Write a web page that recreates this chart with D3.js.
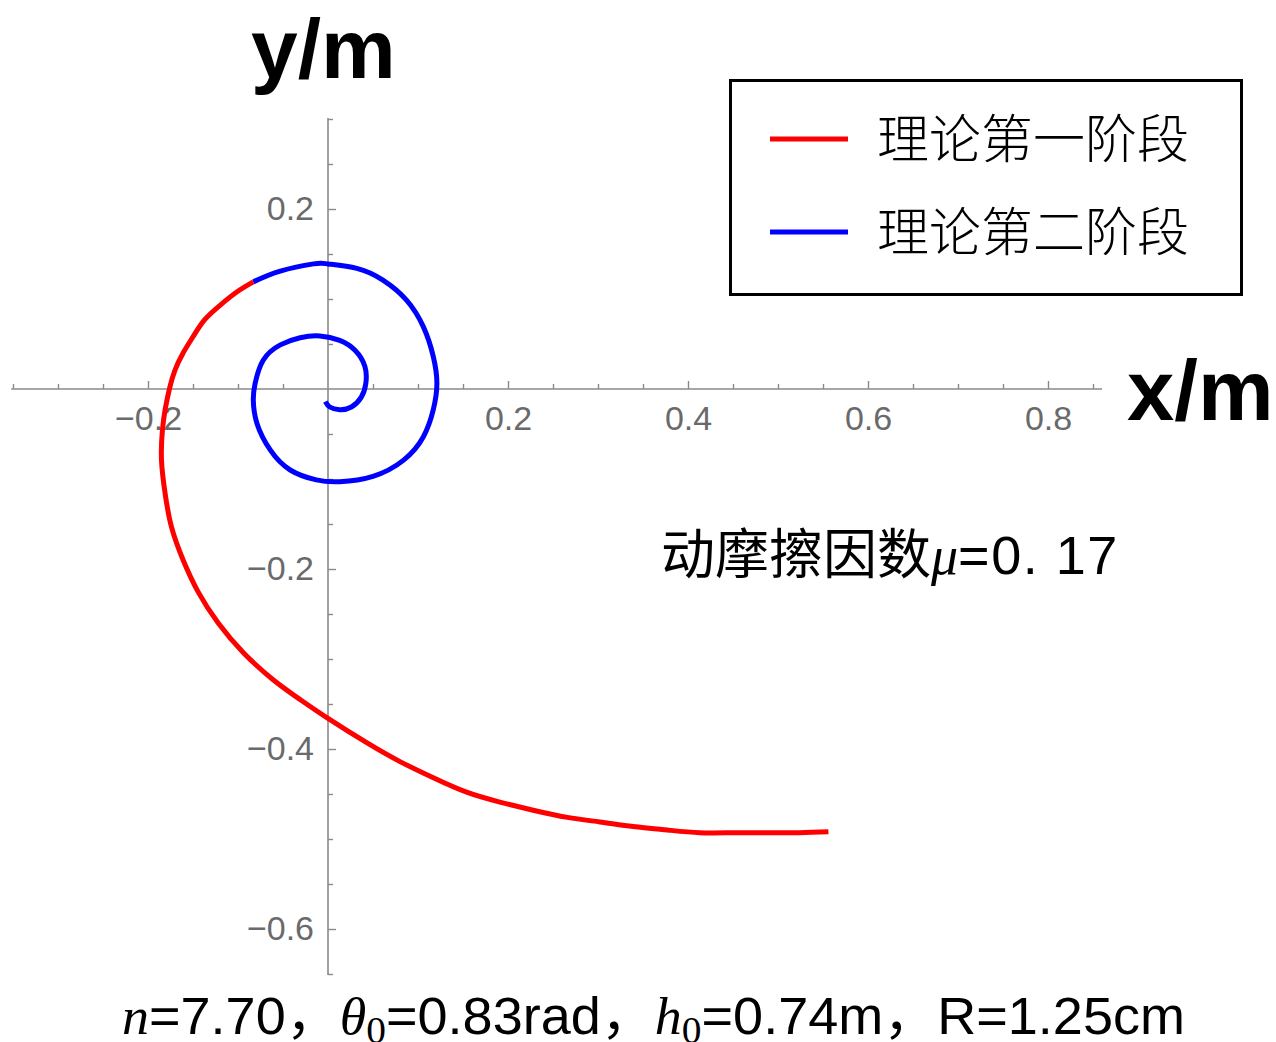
<!DOCTYPE html>
<html>
<head>
<meta charset="utf-8">
<script src="https://cdn.jsdelivr.net/npm/d3@7"></script>
<style>
  body { margin: 0; background: #fff; }
  svg { display: block; }
</style>
</head>
<body>
<svg id="chart" width="1276" height="1042"></svg>
<script>
// Trajectory of the first stage (outer end inward), metres
const redX = [0.556, 0.524, 0.488, 0.450, 0.413, 0.377, 0.339, 0.302, 0.266, 0.228, 0.191, 0.154, 0.117, 0.080, 0.043, 0.000,
  -0.031, -0.061, -0.094, -0.122, -0.144, -0.161, -0.174, -0.181, -0.185, -0.184, -0.181, -0.176, -0.170, -0.161, -0.150,
  -0.137, -0.120, -0.101, -0.083];
const redY = [-0.492, -0.493, -0.493, -0.493, -0.493, -0.490, -0.486, -0.481, -0.476, -0.468, -0.459, -0.448, -0.432, -0.414, -0.393, -0.366,
  -0.345, -0.323, -0.293, -0.260, -0.226, -0.190, -0.153, -0.116, -0.079, -0.046, -0.023, 0.001, 0.021, 0.040, 0.058,
  0.077, 0.093, 0.108, 0.119];

// Trajectory of the second stage (continues from the end of the first), metres
const blueX = [-0.083, -0.053, -0.016, 0.000, 0.032, 0.061, 0.087, 0.106, 0.117, 0.121, 0.117, 0.106, 0.084, 0.050, 0.013, -0.013,
  -0.042, -0.064, -0.079, -0.083, -0.081, -0.072, -0.053, -0.031, -0.009, 0.013, 0.030, 0.041, 0.042, 0.037, 0.026, 0.013, 0.002, -0.003];
const blueY = [0.119, 0.131, 0.139, 0.139, 0.134, 0.121, 0.099, 0.069, 0.036, 0.006, -0.023, -0.053, -0.079, -0.097, -0.103, -0.101,
  -0.090, -0.068, -0.038, -0.012, 0.006, 0.032, 0.049, 0.057, 0.059, 0.054, 0.043, 0.025, 0.006, -0.009, -0.020, -0.023, -0.020, -0.014];

// Axis ticks
const xMajorTicks = [-0.2, 0.2, 0.4, 0.6, 0.8];
const xMinorTicks = [-0.35, -0.3, -0.25, -0.15, -0.1, -0.05, 0.05, 0.1, 0.15, 0.25, 0.3, 0.35, 0.45, 0.5, 0.55, 0.65, 0.7, 0.75, 0.85];
const yMajorTicks = [0.2, -0.2, -0.4, -0.6];
const yMinorTicks = [0.3, 0.25, 0.15, 0.1, 0.05, -0.05, -0.1, -0.15, -0.25, -0.3, -0.35, -0.45, -0.5, -0.55, -0.65];

// Legend entries
const legendLabels = ["理论第一阶段", "理论第二阶段"];
const legendColors = ["#ff0000", "#0000ff"];

const svg = d3.select("#chart");
const x = d3.scaleLinear().domain([-0.35, 0.85]).range([13, 1093]);
const y = d3.scaleLinear().domain([0.3, -0.65]).range([119, 974]);

const axisColor = "#8a8a8a";
const labelColor = "#6a6a6a";
const tickFont = "'Liberation Sans', Arial, sans-serif";
const fmt = d3.format(".1f");

// axis lines
svg.append("line").attr("x1", x(-0.352)).attr("x2", x(0.86)).attr("y1", y(0)).attr("y2", y(0))
  .attr("stroke", axisColor).attr("stroke-width", 1.6);
svg.append("line").attr("x1", x(0)).attr("x2", x(0)).attr("y1", y(0.301)).attr("y2", y(-0.651))
  .attr("stroke", axisColor).attr("stroke-width", 1.6);

function styleAxis(g) {
  g.select(".domain").remove();
  g.selectAll(".tick line").attr("stroke", axisColor).attr("stroke-width", 1.4);
  g.selectAll(".tick text").attr("fill", labelColor).attr("font-family", tickFont).attr("font-size", 34);
}

// x axis: ticks point upward, labels below
svg.append("g").attr("transform", `translate(0,${y(0)})`)
  .call(d3.axisBottom(x).tickValues(xMinorTicks).tickSize(-5).tickFormat(""))
  .call(styleAxis);
svg.append("g").attr("transform", `translate(0,${y(0)})`)
  .call(d3.axisBottom(x).tickValues(xMajorTicks).tickSize(-8).tickPadding(17).tickFormat(fmt))
  .call(styleAxis);

// y axis: ticks point right, labels left
svg.append("g").attr("transform", `translate(${x(0)},0)`)
  .call(d3.axisLeft(y).tickValues(yMinorTicks).tickSize(-5).tickFormat(""))
  .call(styleAxis);
svg.append("g").attr("transform", `translate(${x(0)},0)`)
  .call(d3.axisLeft(y).tickValues(yMajorTicks).tickSize(-8).tickPadding(14).tickFormat(fmt))
  .call(styleAxis);

// axis titles
svg.append("text").attr("x", 251).attr("y", 78)
  .attr("font-family", "'Liberation Sans', Arial, sans-serif").attr("font-weight", "bold")
  .attr("font-size", 84).attr("fill", "#000").text("y/m");
svg.append("text").attr("x", 1127).attr("y", 420)
  .attr("font-family", "'Liberation Sans', Arial, sans-serif").attr("font-weight", "bold")
  .attr("font-size", 85).attr("fill", "#000").text("x/m");

// trajectories
const line = d3.line().x(d => x(d[0])).y(d => y(d[1])).curve(d3.curveNatural);
const redPts = redX.map((v, i) => [v, redY[i]]);
const bluePts = blueX.map((v, i) => [v, blueY[i]]);
svg.append("path").datum(bluePts).attr("d", line).attr("fill", "none")
  .attr("stroke", legendColors[1]).attr("stroke-width", 5).attr("stroke-linecap", "butt");
svg.append("path").datum(redPts).attr("d", line).attr("fill", "none")
  .attr("stroke", legendColors[0]).attr("stroke-width", 5).attr("stroke-linecap", "butt");

// legend
const leg = svg.append("g");
leg.append("rect").attr("x", 730.5).attr("y", 80.5).attr("width", 511).attr("height", 214)
  .attr("fill", "#fff").attr("stroke", "#000").attr("stroke-width", 3);
legendLabels.forEach((lab, i) => {
  const cy = 139 + i * 93;
  leg.append("line").attr("x1", 770).attr("x2", 848).attr("y1", cy).attr("y2", cy)
    .attr("stroke", legendColors[i]).attr("stroke-width", 5);
  leg.append("text").attr("x", 877).attr("y", cy + 19)
    .attr("font-family", "'Noto Sans CJK SC', sans-serif").attr("font-weight", 300)
    .attr("font-size", 52).attr("fill", "#000").text(lab);
});

// friction coefficient note
const note = svg.append("text").attr("x", 661).attr("y", 574).attr("font-size", 54).attr("fill", "#000");
note.append("tspan").attr("font-family", "'Noto Sans CJK SC', sans-serif").text("动摩擦因数");
note.append("tspan").attr("font-family", "'Liberation Serif', 'Times New Roman', serif").attr("font-style", "italic").text("μ");
note.append("tspan").attr("font-family", "'Liberation Sans', Arial, sans-serif").attr("letter-spacing", 1.5).text("=0. 17");

// parameter line, condensed to fit
const serif = "'Liberation Serif', 'Times New Roman', serif";
const sans = "'Liberation Sans', Arial, 'Noto Sans CJK SC', sans-serif";
const params = svg.append("text").attr("font-size", 52).attr("fill", "#000").attr("font-family", sans);
const parts = [
  { t: "n", f: serif, i: true },
  { t: "=7.70，", f: sans },
  { t: "θ", f: serif, i: true },
  { t: "0", f: serif, sub: true },
  { t: "=0.83rad，", f: sans },
  { t: "h", f: serif, i: true },
  { t: "0", f: serif, sub: true },
  { t: "=0.74m，R=1.25cm", f: sans }
];
let subOn = false;
parts.forEach(p => {
  const ts = params.append("tspan").attr("font-family", p.f).text(p.t);
  if (p.i) ts.attr("font-style", "italic");
  if (p.sub) { ts.attr("font-size", 38).attr("dy", 9); subOn = true; }
  else if (subOn) { ts.attr("dy", -9); subOn = false; }
});
const natural = params.node().getComputedTextLength();
const sx = 1063 / natural;
params.attr("transform", `translate(122,1034) scale(${sx},1)`);
</script>
</body>
</html>
